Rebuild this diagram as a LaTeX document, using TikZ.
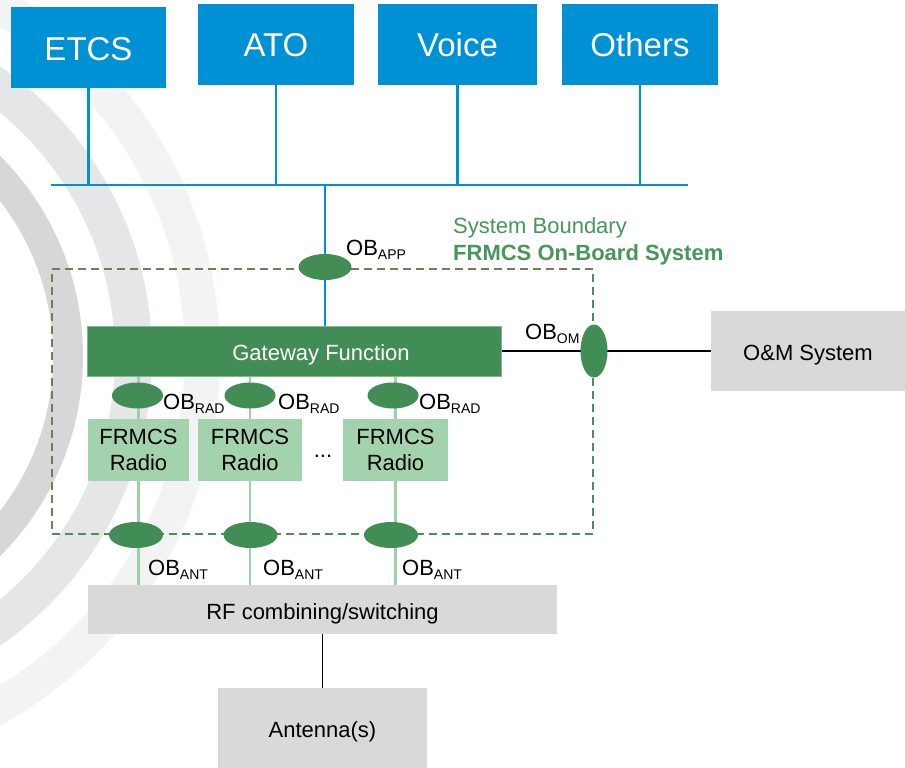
\documentclass[tikz,border=0pt]{standalone}
\usepackage{fontspec}
\setmainfont{Liberation Sans}
\usetikzlibrary{shapes.geometric}
\definecolor{blueapp}{HTML}{0090D4}
\definecolor{obgreen}{HTML}{418D55}
\definecolor{gwgreen}{HTML}{428D55}
\definecolor{gwborder}{HTML}{7DBA8C}
\definecolor{radiogreen}{HTML}{A2D3AD}
\definecolor{lightline}{HTML}{A0D0AA}
\definecolor{boxgray}{HTML}{D9D9D9}
\definecolor{sbgreen}{HTML}{48965C}
\definecolor{bandA}{HTML}{D6D7D7}
\definecolor{bandB}{HTML}{E5E6E7}
\definecolor{bandC}{HTML}{F2F3F3}
\definecolor{dashbrown}{HTML}{7F7658}
\definecolor{dashgreen}{HTML}{4F8D5C}
\newcommand\oblabel[1]{OB\raisebox{-4pt}{\fontsize{14pt}{15pt}\selectfont #1}}
\begin{document}
\begin{tikzpicture}[x=1pt,y=-1pt,
  font=\fontsize{22pt}{26pt}\selectfont,
  appbox/.style={rectangle, fill=blueapp, text=white, font=\fontsize{33pt}{36pt}\selectfont, inner sep=0pt, minimum height=81pt, text height=25pt, text depth=0pt},
  obh/.style={ellipse, fill=obgreen, inner sep=0pt, minimum width=53pt, minimum height=26pt},
  obv/.style={ellipse, fill=obgreen, inner sep=0pt, minimum width=27pt, minimum height=53pt},
  radiobox/.style={rectangle, fill=radiogreen, inner sep=0pt, minimum height=62pt, align=center},
  graybox/.style={rectangle, fill=boxgray, inner sep=0pt, text height=19pt, text depth=0pt},
  obtext/.style={anchor=base west, inner sep=0pt},
  busline/.style={draw=blueapp, line width=2.5pt},
  radline/.style={draw=lightline, line width=2.2pt},
  blackline/.style={draw=black, line width=1.5pt},
  bdash/.style={line width=2pt, dash pattern=on 8pt off 5pt}
]
\useasboundingbox (0,0) rectangle (905,768);
\fill[white] (0,0) rectangle (905,768);
% background arcs
\begin{scope}
\clip (0,0) rectangle (905,768);
\fill[bandA, even odd rule] (-200,356) circle[radius=283pt] (-200,356) circle[radius=253pt];
\fill[bandB, even odd rule] (-200,356) circle[radius=352pt] (-200,356) circle[radius=315pt];
\fill[bandC, even odd rule] (-200,356) circle[radius=420pt] (-200,356) circle[radius=385pt];
\end{scope}

% application boxes
\node[appbox, minimum width=155pt] (etcs) at (88.5,47.5) {ETCS};
\node[appbox, minimum width=156pt] (ato) at (276,44.5) {ATO};
\node[appbox, minimum width=159pt] (voice) at (457.5,44.5) {Voice};
\node[appbox, minimum width=156pt] (others) at (640,44.5) {Others};

% bus
\coordinate (busL) at (51,185);
\coordinate (busR) at (688,185);
\coordinate (busG) at (325,185);
\draw[busline] (busL) -- (busR);
\foreach \b in {etcs,ato,voice,others}
  \draw[busline] (\b.south) -- (\b.south |- busL);

% boundary
\draw[bdash, draw=dashbrown] (593,269) -- (52,269) -- (52,534);
\draw[bdash, draw=dashgreen] (52,534) -- (593,534) -- (593,269);

% main boxes
\node[rectangle, fill=gwgreen, draw=gwborder, line width=1pt, minimum width=414pt, minimum height=50pt, inner sep=0pt] (gw) at (294,351) {};
\node[text=white, inner sep=0pt, anchor=base] (gwtext) at (321,360) {Gateway Function};
\node[graybox, minimum width=194pt, minimum height=80pt] (om) at (808,351) {O\&M System};
\node[radiobox, minimum width=101pt] (r1) at (138.5,450) {FRMCS\\Radio};
\node[radiobox, minimum width=104pt] (r2) at (250,450) {FRMCS\\Radio};
\node[radiobox, minimum width=105pt] (r3) at (395.5,450) {FRMCS\\Radio};
\node[anchor=base, inner sep=0pt] (dots) at (323,457) {...};
\node[graybox, minimum width=469pt, minimum height=49pt] (rf) at (322.5,609.5) {RF combining/switching};
\node[graybox, minimum width=209pt, minimum height=80pt] (ant) at (322.5,728) {Antenna(s)};

% connectors
\draw[busline] (busG) -- (busG |- gw.north);
\draw[blackline] (gw.east) -- (om.west);
\foreach \r in {r1,r2,r3}{
  \draw[radline] (\r.north) -- (\r.north |- gw.south);
  \draw[radline] (\r.south) -- (\r.south |- rf.north);
}
\draw[blackline] (rf.south) -- (ant.north);

% interface ellipses
\node[obh] (obapp) at (325,267) {};
\node[obv] (obom) at (594,351) {};
\node[obh, minimum width=51pt] (obrad1) at (137.5,395.5) {};
\node[obh, minimum width=51pt] (obrad2) at (250,395.5) {};
\node[obh, minimum width=51pt] (obrad3) at (393,395.5) {};
\node[obh, minimum width=54pt] (obant1) at (136,535) {};
\node[obh, minimum width=54pt] (obant2) at (250.5,535) {};
\node[obh, minimum width=54pt] (obant3) at (391,535) {};

% interface labels
\node[obtext] (lapp) at (346,255) {\oblabel{APP}};
\node[obtext] (lom) at (525,339) {\oblabel{OM}};
\node[obtext] (lrad1) at (163,409) {\oblabel{RAD}};
\node[obtext] (lrad2) at (278,409) {\oblabel{RAD}};
\node[obtext] (lrad3) at (419,409) {\oblabel{RAD}};
\node[obtext] (lant1) at (148,575) {\oblabel{ANT}};
\node[obtext] (lant2) at (263,575) {\oblabel{ANT}};
\node[obtext] (lant3) at (402,575) {\oblabel{ANT}};

% system boundary title
\node[obtext, text=sbgreen] (sb1) at (453,233) {System Boundary};
\node[obtext, text=sbgreen, font=\fontsize{22pt}{26pt}\selectfont\bfseries] (sb2) at (453,260) {FRMCS On-Board System};
\end{tikzpicture}
\end{document}
